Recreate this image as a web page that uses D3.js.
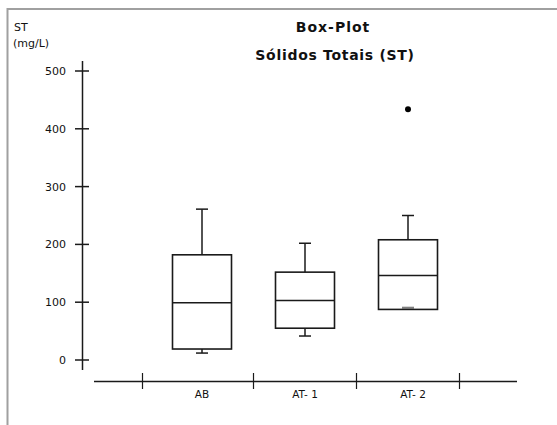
<!DOCTYPE html>
<html><head><meta charset="utf-8">
<script src="https://cdn.jsdelivr.net/npm/d3@7"></script>
<style>body{margin:0;background:#fff}svg{display:block}text{font-family:"DejaVu Sans","Liberation Sans",Arial,sans-serif;fill:#111}</style>
</head><body><div id="chart"></div>
<script>
const categories = ["AB", "AT-1", "AT-2"];
const categoryLabels = ["AB", "AT- 1", "AT- 2"];
const whiskerLow = [12, 41.5, 90.5];
const q1 = [19, 55, 87.5];
const median = [99, 103, 146];
const q3 = [182, 152, 208];
const whiskerHigh = [261, 202, 250];
const outliers = [[], [], [434]];
const yTicks = [0, 100, 200, 300, 400, 500];

const W = 557, H = 425;
const svg = d3.select("#chart").append("svg").attr("width", W).attr("height", H);

// frame
svg.append("path").attr("d", "M7.5,425 V9 H557").attr("fill", "none")
  .attr("stroke", "#a0a0a0").attr("stroke-width", 2);

const y = d3.scaleLinear().domain([0, 500]).range([360, 71]);
const x = d3.scaleBand().domain(categories).range([150.5, 459.5]).paddingInner(0).paddingOuter(0);
const step = x.step(), boxW = 59, capW = 12;
const cx = c => x(c) + step / 2;
const ink = "#1a1a1a";

// y axis
const axX = 82.5;
svg.append("line").attr("x1", axX).attr("x2", axX).attr("y1", 61).attr("y2", 370)
  .attr("stroke", ink).attr("stroke-width", 1.5);
const yt = svg.append("g");
yTicks.forEach(t => {
  yt.append("line").attr("x1", 75).attr("x2", 89).attr("y1", y(t)).attr("y2", y(t))
    .attr("stroke", ink).attr("stroke-width", 1.5);
  yt.append("text").attr("x", 66).attr("y", y(t) + 4).attr("text-anchor", "end")
    .attr("font-size", 11).text(t);
});

// x axis
const axY = 381.5;
svg.append("line").attr("x1", 94).attr("x2", 517).attr("y1", axY).attr("y2", axY)
  .attr("stroke", ink).attr("stroke-width", 1.5);
const bounds = categories.map(c => x(c)).concat([x(categories[categories.length - 1]) + step]);
bounds[0] -= 8;
bounds.forEach(b => {
  svg.append("line").attr("x1", b).attr("x2", b).attr("y1", 373).attr("y2", 389)
    .attr("stroke", ink).attr("stroke-width", 1.2);
});
categories.forEach((c, i) => {
  svg.append("text").attr("x", cx(c) + (i === 2 ? 5 : 0)).attr("y", 398).attr("text-anchor", "middle")
    .attr("font-family", "Liberation Sans, Arial, sans-serif")
    .attr("font-size", 10.5).text(categoryLabels[i]);
});

// boxes
categories.forEach((c, i) => {
  const g = svg.append("g");
  const m = cx(c);
  const lowInside = whiskerLow[i] > q1[i];
  const lowCol = lowInside ? "#808080" : ink;
  g.append("line").attr("x1", m).attr("x2", m).attr("y1", y(q3[i])).attr("y2", y(whiskerHigh[i]))
    .attr("stroke", ink).attr("stroke-width", 1.5);
  g.append("line").attr("x1", m - capW / 2).attr("x2", m + capW / 2).attr("y1", y(whiskerHigh[i])).attr("y2", y(whiskerHigh[i]))
    .attr("stroke", ink).attr("stroke-width", 1.5);
  if (!lowInside) {
    g.append("line").attr("x1", m).attr("x2", m).attr("y1", y(q1[i])).attr("y2", y(whiskerLow[i]))
      .attr("stroke", ink).attr("stroke-width", 1.5);
  }
  g.append("line").attr("x1", m - capW / 2).attr("x2", m + capW / 2).attr("y1", y(whiskerLow[i])).attr("y2", y(whiskerLow[i]))
    .attr("stroke", lowCol).attr("stroke-width", lowInside ? 2 : 1.5);
  g.append("rect").attr("x", m - boxW / 2).attr("y", y(q3[i])).attr("width", boxW)
    .attr("height", y(q1[i]) - y(q3[i])).attr("fill", "none").attr("stroke", ink).attr("stroke-width", 1.6);
  g.append("line").attr("x1", m - boxW / 2).attr("x2", m + boxW / 2).attr("y1", y(median[i])).attr("y2", y(median[i]))
    .attr("stroke", ink).attr("stroke-width", 1.5);
  outliers[i].forEach(o => {
    g.append("circle").attr("cx", m).attr("cy", y(o)).attr("r", 3).attr("fill", "#000");
  });
});

// titles
svg.append("text").attr("x", 14).attr("y", 31).attr("font-size", 11).text("ST");
svg.append("text").attr("x", 13).attr("y", 47).attr("font-size", 11).text("(mg/L)");
svg.append("text").attr("x", 333).attr("y", 32).attr("text-anchor", "middle")
  .attr("font-size", 14).attr("font-weight", "bold").attr("letter-spacing", 1).text("Box-Plot");
svg.append("text").attr("x", 335).attr("y", 60).attr("text-anchor", "middle")
  .attr("font-size", 14).attr("font-weight", "bold").attr("letter-spacing", 0.7).text("Sólidos Totais (ST)");
</script></body></html>
